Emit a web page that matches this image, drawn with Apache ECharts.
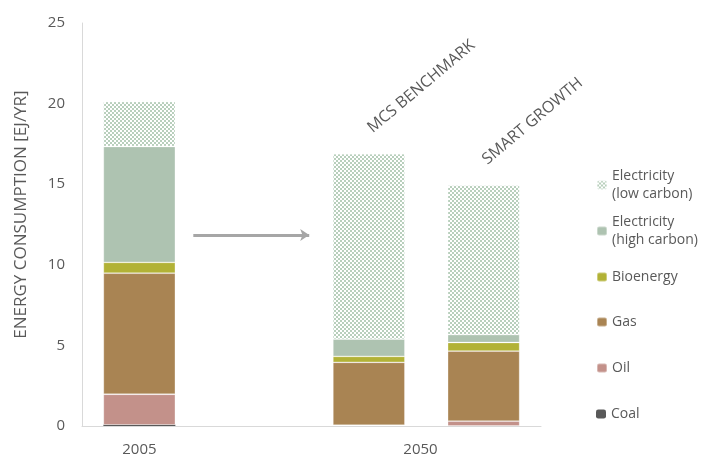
<!DOCTYPE html>
<html>
<head>
<meta charset="utf-8">
<script src="https://cdn.jsdelivr.net/npm/echarts@6/dist/echarts.min.js"></script>
<style>html,body{margin:0;padding:0;background:#fff}#c{width:701px;height:457px}</style>
</head>
<body>
<div id="c"></div>
<script>
// ---- data ----
const categories = ['2005', '', 'MCS BENCHMARK', 'SMART GROWTH'];
const coal = [0.07, '-', 0, 0];
const oil = [1.9, '-', 0.05, 0.3];
const gas = [7.51, '-', 3.9, 4.35];
const bioenergy = [0.67, '-', 0.37, 0.53];
const elecHigh = [7.19, '-', 1.07, 0.49];
const elecLow = [2.79, '-', 11.5, 9.26];
const yearLabels = ['2005', '2050'];
const yearLabelPos = [0.5, 2.95];   // positions on the helper value axis (category units)
const yTicks = [0, 5, 10, 15, 20, 25];
const arrowFrom = [0.97, 11.85];
const arrowTo = [1.98, 11.85];

const FONT = 'Open Sans';
const TXT = '#595959';

function makePattern() {
  const c = document.createElement('canvas');
  c.width = 4; c.height = 4;
  const ctx = c.getContext('2d');
  ctx.fillStyle = '#ffffff'; ctx.fillRect(0, 0, 4, 4);
  ctx.fillStyle = '#b8cfbc';
  ctx.fillRect(0, 0, 2, 2); ctx.fillRect(2, 2, 2, 2);
  return { image: c, repeat: 'repeat' };
}

const names = ['Electricity\n(low carbon)', 'Electricity\n(high carbon)', 'Bioenergy', 'Gas', 'Oil', 'Coal'];
const colors = [makePattern(), '#aec3b1', '#b2b236', '#a98453', '#c3918a', '#595959'];
const values = [elecLow, elecHigh, bioenergy, gas, oil, coal];

const chart = echarts.init(document.getElementById('c'), null, { renderer: 'canvas' });

const L = 18;
const legendCenters = [185, 231, 277, 322, 368, 414];
const legends = names.map((n, i) => {
  const multi = n.indexOf('\n') >= 0;
  return {
    data: [n],
    orient: 'vertical',
    left: 596,
    top: multi ? legendCenters[i] - 1.5 * L : legendCenters[i] - L / 2,
    padding: 0,
    itemWidth: 10,
    itemHeight: 9,
    itemGap: 0,
    selectedMode: false,
    textStyle: {
      color: TXT, fontSize: 14, fontFamily: FONT, lineHeight: L,
      padding: multi ? [L, 0, 0, 0] : 0
    }
  };
});

const order = [5, 4, 3, 2, 1, 0]; // bottom-up stacking: coal ... elec low
const series = order.map(i => ({
  name: names[i],
  type: 'bar',
  stack: 'total',
  barWidth: 72,
  data: values[i],
  itemStyle: { color: colors[i], borderColor: 'rgba(255,255,255,0.35)', borderWidth: i === 5 ? 0 : 0.8 },
  emphasis: { disabled: true },
  label: i === 0 ? {
    show: true,
    position: 'top',
    distance: 14,
    align: 'left',
    verticalAlign: 'bottom',
    rotate: 40,
    offset: [7, 1],
    color: TXT,
    fontSize: 16,
    fontFamily: FONT,
    formatter: p => (p.dataIndex >= 2 ? p.name : '')
  } : { show: false }
}));

series.push({
  type: 'line',
  xAxisIndex: 1,
  data: [],
  silent: true,
  markLine: {
    silent: true,
    symbol: ['none', 'arrow'],
    symbolSize: [9, 9],
    label: { show: false },
    lineStyle: { color: '#a6a6a6', width: 3, type: 'solid' },
    data: [[{ coord: arrowFrom }, { coord: arrowTo }]]
  }
});

chart.setOption({
  animation: false,
  backgroundColor: '#ffffff',
  legend: legends,
  grid: { left: 82, right: 160, top: 23, bottom: 27, containLabel: false },
  xAxis: [{
    type: 'category',
    data: categories,
    axisLine: { show: true, lineStyle: { color: '#d9d9d9', width: 1 } },
    axisTick: { show: false },
    axisLabel: { show: false },
    splitLine: { show: false }
  }, {
    type: 'value',
    min: 0, max: 4,
    position: 'bottom',
    axisLine: { show: false },
    axisTick: { show: false },
    splitLine: { show: false },
    axisLabel: {
      show: true,
      customValues: yearLabelPos,
      formatter: v => {
        const k = yearLabelPos.findIndex(p => Math.abs(p - v) < 1e-6);
        return k >= 0 ? yearLabels[k] : '';
      },
      margin: 16,
      color: TXT, fontSize: 15, fontFamily: FONT
    }
  }],
  yAxis: {
    type: 'value',
    min: yTicks[0], max: yTicks[yTicks.length - 1], interval: 5,
    name: 'ENERGY CONSUMPTION [EJ/YR]',
    nameLocation: 'middle',
    nameGap: 52,
    nameRotate: 90,
    nameTextStyle: { color: TXT, fontSize: 17, fontFamily: FONT, padding: [0, 0, 0, 20] },
    axisLine: { show: true, lineStyle: { color: '#d9d9d9', width: 1 } },
    axisTick: { show: false },
    splitLine: { show: false },
    axisLabel: { color: TXT, fontSize: 15, fontFamily: FONT, margin: 17 }
  },
  series: series
});
</script>
</body>
</html>
